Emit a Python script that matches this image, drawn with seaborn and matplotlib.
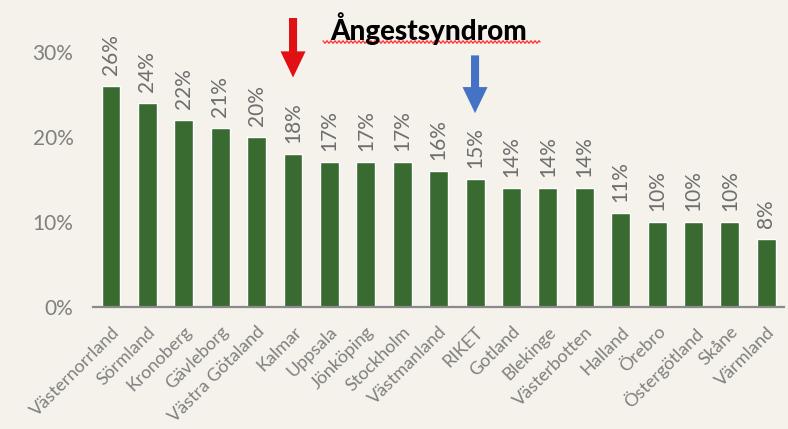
import numpy as np
import pandas as pd
import matplotlib
matplotlib.use("Agg")
import matplotlib.pyplot as plt
import seaborn as sns

# data
regions = ['Västernorrland', 'Sörmland', 'Kronoberg', 'Gävleborg', 'Västra Götaland',
           'Kalmar', 'Uppsala', 'Jönköping', 'Stockholm', 'Västmanland', 'RIKET',
           'Gotland', 'Blekinge', 'Västerbotten', 'Halland', 'Örebro',
           'Östergötland', 'Skåne', 'Värmland']
andel = [26, 24, 22, 21, 20, 18, 17, 17, 17, 16, 15, 14, 14, 14, 11, 10, 10, 10, 8]
y_ticks = [0, 10, 20, 30]
red_arrow_region = 'Kalmar'
blue_arrow_region = 'RIKET'

bg = '#f5f1eb'
green = '#396b31'
grey = '#808080'

sns.set_style('white')
plt.rcParams['font.family'] = ['Lato', 'DejaVu Sans']

df = pd.DataFrame({'region': regions, 'andel': andel})

fig = plt.figure(figsize=(7.88, 4.29), dpi=100, facecolor=bg)
ax = fig.add_axes([0.1178, 0.2844, 0.8777, 0.5944])
ax.set_facecolor(bg)

sns.barplot(data=df, x='region', y='andel', color=green, width=0.52,
            saturation=1, ax=ax)

ax.set_xlim(-0.5, len(regions) - 0.5)
ax.set_ylim(0, 30)
ax.set_yticks(y_ticks)
ax.set_yticklabels([f'{t}%' for t in y_ticks])
ax.set_xlabel('')
ax.set_ylabel('')

for s in ['top', 'right', 'left']:
    ax.spines[s].set_visible(False)
ax.spines['bottom'].set_color('#8a8a8a')
ax.spines['bottom'].set_linewidth(1.6)

ax.tick_params(axis='y', length=0, pad=14, labelsize=15, labelcolor=grey)
ax.tick_params(axis='x', length=0, pad=12, labelsize=13, labelcolor=grey)
for lab in ax.get_xticklabels():
    lab.set_rotation(45)
    lab.set_ha('right')
    lab.set_va('top')
    lab.set_rotation_mode('anchor')

# value labels
for i, v in enumerate(andel):
    ax.annotate(f'{v}%', (i, v), xytext=(0, 8), textcoords='offset points',
                rotation=90, ha='center', va='bottom', fontsize=15,
                color='#6e6e6e', annotation_clip=False)

# arrows
def arrow(region, tip, tail, col):
    i = regions.index(region)
    ax.annotate('', xy=(i, tip), xytext=(i, tail),
                arrowprops=dict(arrowstyle='simple,head_length=0.94,head_width=0.9,tail_width=0.29',
                                mutation_scale=20, color=col, shrinkA=0, shrinkB=0, lw=0),
                annotation_clip=False)

arrow(red_arrow_region, 27.0, 34.0, '#e01014')
arrow(blue_arrow_region, 22.8, 29.6, '#4472c4')

# title
fig.text(429 / 788, 1 - 29 / 429, 'Ångestsyndrom', ha='center', va='center',
         fontsize=20, fontweight='black', color='black')
# spell-check squiggle under title
xs = np.linspace(323, 540, 400)
ys = 42 + 1.2 * np.sin(xs * 2 * np.pi / 4)
fig.add_artist(plt.Line2D(xs / 788, 1 - ys / 429, color='#ff3030', lw=0.9,
                          transform=fig.transFigure))

fig.savefig('out.png', dpi=100, facecolor=bg)
